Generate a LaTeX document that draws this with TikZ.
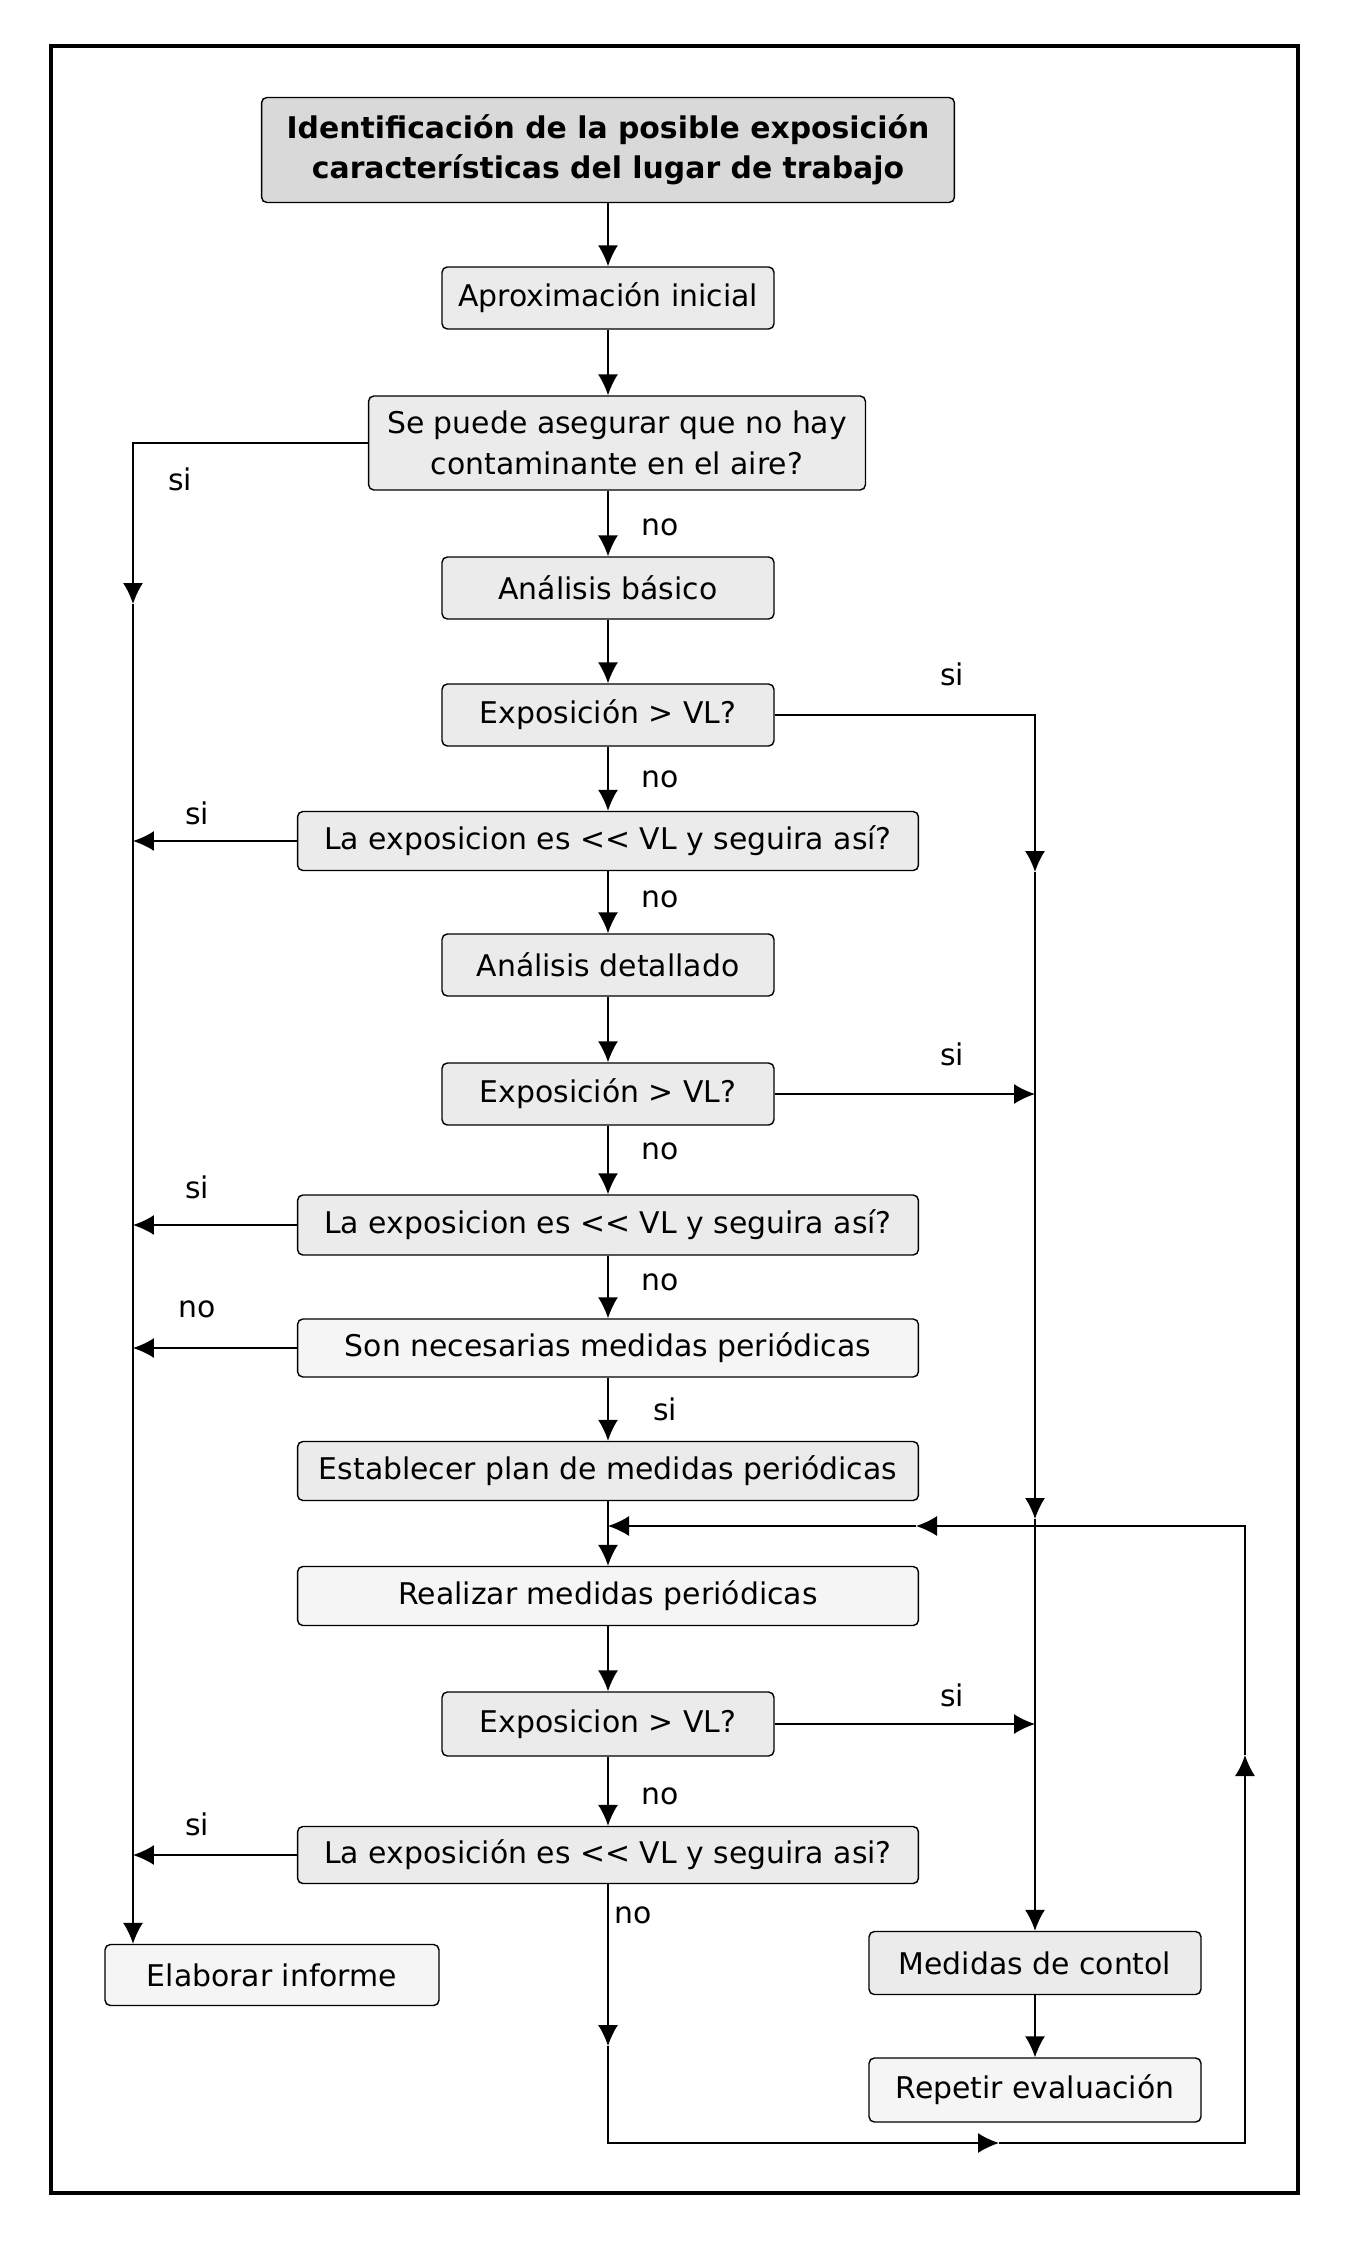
\documentclass[tikz,border=0pt]{standalone}
\usepackage{fontspec}
\setmainfont{DejaVu Sans}
\usetikzlibrary{arrows.meta, positioning}

\begin{document}
\begin{tikzpicture}[
  x=0.02cm, y=-0.02cm,
  box/.style={rectangle, rounded corners=3pt, draw=black, line width=0.8pt,
              fill=gray!16, minimum height=1.24cm, inner sep=2pt,
              font=\fontsize{17}{23}\selectfont, align=center},
  narrow/.style={box, minimum width=6.64cm},
  wide/.style={box, minimum width=12.42cm},
  pale/.style={fill=gray!8},
  lbl/.style={font=\fontsize{17}{20}\selectfont},
  arr/.style={-{Latex[length=0.42cm,width=0.4cm]}, line width=0.9pt},
  link/.style={line width=0.9pt}
]
  \useasboundingbox (0,0) rectangle (1345,2241);
  \draw[line width=2pt] (51,46) rectangle (1298,2193);

  % main column
  \node[box, fill=gray!30, font=\fontsize{17}{23}\selectfont\bfseries,
        minimum width=13.86cm, minimum height=2.1cm] (ident) at (608,150)
        {Identificación de la posible exposición\\características del lugar de trabajo};
  \node[narrow] (aprox) at (608,298) {Aproximación inicial};
  \node[box, minimum width=9.94cm, minimum height=1.88cm] (asegurar) at (617,443)
        {Se puede asegurar que no hay\\contaminante en el aire?};
  \node[narrow] (basico) at (608,588) {Análisis básico};
  \node[narrow] (expo1) at (608,715) {Exposición > VL?};
  \node[wide, minimum height=1.18cm] (seg1) at (608,841) {La exposicion es <\kern0pt< VL y seguira así?};
  \node[narrow] (detallado) at (608,965) {Análisis detallado};
  \node[narrow] (expo2) at (608,1094) {Exposición > VL?};
  \node[wide, minimum height=1.2cm] (seg2) at (608,1225) {La exposicion es <\kern0pt< VL y seguira así?};
  \node[wide, pale, minimum height=1.16cm] (necesarias) at (608,1348) {Son necesarias medidas periódicas};
  \node[wide, minimum height=1.18cm] (plan) at (608,1471) {Establecer plan de medidas periódicas};
  \node[wide, pale, minimum height=1.18cm] (realizar) at (608,1596) {Realizar medidas periódicas};
  \node[narrow, minimum height=1.28cm] (expo3) at (608,1724) {Exposicion > VL?};
  \node[wide, minimum height=1.14cm] (seg3) at (608,1855) {La exposición es <\kern0pt< VL y seguira asi?};

  % side boxes
  \node[box, pale, minimum width=6.68cm, minimum height=1.22cm] (informe) at (272,1975) {Elaborar informe};
  \node[narrow, minimum height=1.26cm] (medidas) at (1035,1963) {Medidas de contol};
  \node[narrow, pale, minimum height=1.28cm] (repetir) at (1035,2090) {Repetir evaluación};

  % helper points
  \coordinate (L1) at (133,604);
  \coordinate (R1) at (1035,872);
  \coordinate (R2) at (1035,1519);
  \coordinate (B1) at (608,2046);
  \coordinate (B2) at (608,2143);
  \coordinate (B3) at (999,2143);
  \coordinate (B4) at (1245,2143);
  \coordinate (B5) at (1245,1755);
  \coordinate (B6) at (1245,1526);
  \coordinate (B7) at (916,1526);
  \coordinate (J)  at (608,1526);

  % down the middle
  \draw[arr] (ident) -- (aprox);
  \draw[arr] (aprox.south) -- (aprox.south |- asegurar.north);
  \draw[arr] (aprox.south |- asegurar.south) -- (basico.north);
  \draw[arr] (basico) -- (expo1);
  \draw[arr] (expo1) -- (seg1);
  \draw[arr] (seg1) -- (detallado);
  \draw[arr] (detallado) -- (expo2);
  \draw[arr] (expo2) -- (seg2);
  \draw[arr] (seg2) -- (necesarias);
  \draw[arr] (necesarias) -- (plan);
  \draw[arr] (plan) -- (realizar);
  \draw[arr] (realizar) -- (expo3);
  \draw[arr] (expo3) -- (seg3);

  % left side
  \draw[arr] (asegurar.west) -| (L1);
  \draw[arr] (L1) -- (L1 |- informe.north);
  \draw[arr] (seg1.west) -- (seg1.west -| L1);
  \draw[arr] (seg2.west) -- (seg2.west -| L1);
  \draw[arr] (necesarias.west) -- (necesarias.west -| L1);
  \draw[arr] (seg3.west) -- (seg3.west -| L1);

  % right side
  \draw[arr] (expo1.east) -| (R1);
  \draw[arr] (R1) -- (R2);
  \draw[arr] (R2) -- (medidas.north);
  \draw[arr] (expo2.east) -- (expo2.east -| R1);
  \draw[arr] (expo3.east) -- (expo3.east -| R1);
  \draw[arr] (medidas) -- (repetir);

  % loop back
  \draw[arr] (seg3.south) -- (B1);
  \draw[arr] (B1) -- (B2) -- (B3);
  \draw[arr] (B3) -- (B4) -- (B5);
  \draw[arr] (B5) -- (B6) -- (B7);
  \draw[arr] (B7) -- (J);

  % labels
  \node[lbl] (l-si0) at (180,479) {si};
  \node[lbl] (l-no0) at (660,527) {no};
  \node[lbl] (l-si1) at (952,674) {si};
  \node[lbl] (l-no1) at (660,779) {no};
  \node[lbl] (l-si2) at (197,813) {si};
  \node[lbl] (l-no2) at (660,899) {no};
  \node[lbl] (l-si3) at (952,1054) {si};
  \node[lbl] (l-no3) at (660,1151) {no};
  \node[lbl] (l-si4) at (197,1187) {si};
  \node[lbl] (l-no4) at (660,1282) {no};
  \node[lbl] (l-no5) at (197,1309) {no};
  \node[lbl] (l-si5) at (665,1409) {si};
  \node[lbl] (l-si6) at (952,1695) {si};
  \node[lbl] (l-no6) at (660,1796) {no};
  \node[lbl] (l-si7) at (197,1824) {si};
  \node[lbl] (l-no7) at (633,1915) {no};
\end{tikzpicture}
\end{document}
